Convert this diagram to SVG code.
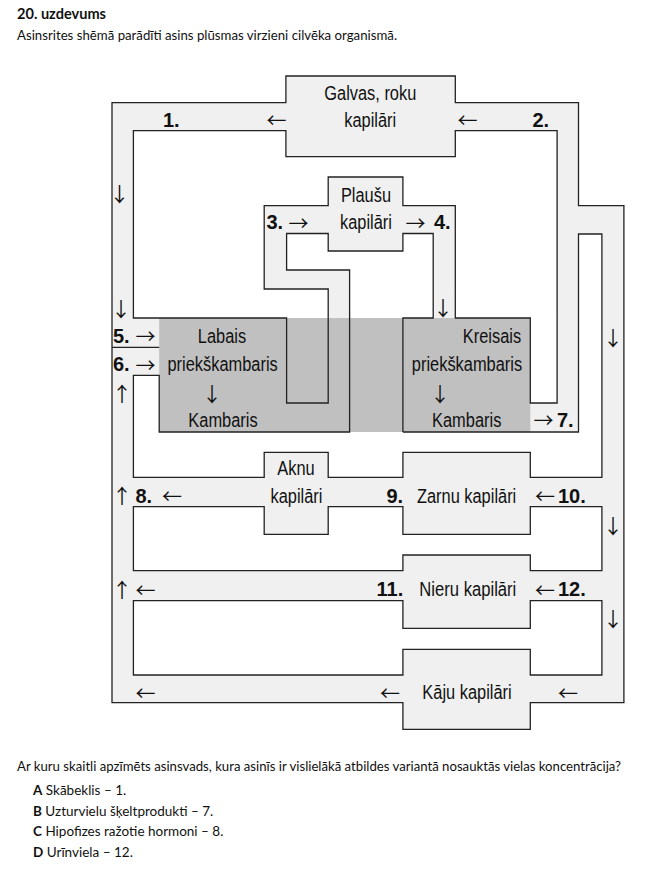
<svg xmlns="http://www.w3.org/2000/svg" width="656" height="869" viewBox="0 0 656 869">
<style>
.pipe{fill:#f0f0f0;stroke:none}
.hole{fill:#ffffff;stroke:none}
.edge{fill:none;stroke:#222;stroke-width:1.3;stroke-linejoin:miter}
.heart{fill:#c0c0c0}
.lbl{font-family:"Liberation Sans Narrow","Liberation Sans",Arial,sans-serif;font-size:20px;fill:#111;text-anchor:middle}
.num{font-family:"Liberation Sans Narrow","Liberation Sans",Arial,sans-serif;font-size:20px;font-weight:bold;fill:#111}
.arr{font-family:"Noto Sans CJK JP","Noto Sans CJK SC",sans-serif;font-size:20px;fill:#111;text-anchor:middle}
.hd{font-family:Lato,"Liberation Sans",sans-serif;fill:#111}
</style>
<rect width="656" height="869" fill="#fff"/>
<g id="header">
<text class="hd" x="17" y="19" font-size="15" font-weight="bold" textLength="89" lengthAdjust="spacingAndGlyphs">20. uzdevums</text>
<text class="hd" x="17" y="40" font-size="13" textLength="380" lengthAdjust="spacingAndGlyphs">Asinsrites shēmā parādīti asins plūsmas virzieni cilvēka organismā.</text>
</g>
<g id="vessels">
<polygon class="pipe" points="112,102.7 285.9,102.7 285.9,76 455.3,76 455.3,102.7 578.5,102.7 578.5,205.7 623.9,205.7 623.9,702.7 530.3,702.7 530.3,729.3 402.9,729.3 402.9,702.7 112,702.7"/>
<polygon id="holeA" class="hole" points="133.4,130.7 285.9,130.7 285.9,156.7 455.3,156.7 455.3,130.7 557.1,130.7 557.1,403 530.3,403 530.3,318 455.3,318 455.3,205.7 402.9,205.7 402.9,177 328.2,177 328.2,205.7 264.2,205.7 264.2,289 328.2,289 328.2,403 286.6,403 286.6,318 159.2,318 133.4,318"/>
<polygon id="holeB" class="hole" points="286.6,233.5 328.2,233.5 328.2,251 402.9,251 402.9,233.5 433.2,233.5 433.2,318 402.9,318 402.9,432 578.5,432 578.5,234 601.9,234 601.9,477.3 530.3,477.3 530.3,452.3 402.9,452.3 402.9,477.3 328.2,477.3 328.2,452.3 264.2,452.3 264.2,477.3 133.4,477.3 133.4,375.3 159.2,375.3 159.2,432 349.6,432 349.6,270 286.6,270"/>
<polygon id="holeC" class="hole" points="133.4,506.7 264.2,506.7 264.2,534.3 328.2,534.3 328.2,506.7 402.9,506.7 402.9,534.3 530.3,534.3 530.3,506.7 601.9,506.7 601.9,570.7 530.3,570.7 530.3,555 402.9,555 402.9,570.7 133.4,570.7"/>
<polygon id="holeD" class="hole" points="133.4,600.7 402.9,600.7 402.9,628.3 530.3,628.3 530.3,600.7 601.9,600.7 601.9,675 530.3,675 530.3,649.3 402.9,649.3 402.9,675 133.4,675"/>
<rect id="heart" class="heart" x="159.2" y="318" width="371.1" height="114"/>
<polygon class="edge" points="112,102.7 285.9,102.7 285.9,76 455.3,76 455.3,102.7 578.5,102.7 578.5,205.7 623.9,205.7 623.9,702.7 530.3,702.7 530.3,729.3 402.9,729.3 402.9,702.7 112,702.7"/>
<polygon class="edge" points="133.4,130.7 285.9,130.7 285.9,156.7 455.3,156.7 455.3,130.7 557.1,130.7 557.1,403 530.3,403 530.3,318 455.3,318 455.3,205.7 402.9,205.7 402.9,177 328.2,177 328.2,205.7 264.2,205.7 264.2,289 328.2,289 328.2,403 286.6,403 286.6,318 159.2,318 133.4,318"/>
<polyline class="edge" points="402.9,432 578.5,432 578.5,234 601.9,234 601.9,477.3 530.3,477.3 530.3,452.3 402.9,452.3 402.9,477.3 328.2,477.3 328.2,452.3 264.2,452.3 264.2,477.3 133.4,477.3 133.4,375.3 159.2,375.3 159.2,432 349.6,432 349.6,270 286.6,270 286.6,233.5 328.2,233.5 328.2,251 402.9,251 402.9,233.5 433.2,233.5 433.2,318 402.9,318 402.9,432"/>
<polygon class="edge" points="133.4,506.7 264.2,506.7 264.2,534.3 328.2,534.3 328.2,506.7 402.9,506.7 402.9,534.3 530.3,534.3 530.3,506.7 601.9,506.7 601.9,570.7 530.3,570.7 530.3,555 402.9,555 402.9,570.7 133.4,570.7"/>
<polygon class="edge" points="133.4,600.7 402.9,600.7 402.9,628.3 530.3,628.3 530.3,600.7 601.9,600.7 601.9,675 530.3,675 530.3,649.3 402.9,649.3 402.9,675 133.4,675"/>
<line class="edge" x1="112" y1="347.3" x2="159.2" y2="347.3"/>
</g>
<g id="galvas">
<text class="lbl" x="370.3" y="99.5" textLength="92" lengthAdjust="spacingAndGlyphs">Galvas, roku</text>
<text class="lbl" x="370.2" y="126.5" textLength="51.9" lengthAdjust="spacingAndGlyphs">kapilāri</text>
</g>
<g id="plausu">
<text class="lbl" x="366" y="201.5" textLength="50.1" lengthAdjust="spacingAndGlyphs">Plaušu</text>
<text class="lbl" x="366" y="229.3" textLength="51.9" lengthAdjust="spacingAndGlyphs">kapilāri</text>
</g>
<g id="sirds-labais">
<text class="lbl" x="222" y="343" textLength="48.3" lengthAdjust="spacingAndGlyphs">Labais</text>
<text class="lbl" x="222.6" y="371" textLength="110.3" lengthAdjust="spacingAndGlyphs">priekškambaris</text>
<text class="arr" x="212" y="401.6">↓</text>
<text class="lbl" x="223" y="427" textLength="69.3" lengthAdjust="spacingAndGlyphs">Kambaris</text>
</g>
<g id="sirds-kreisais">
<text class="lbl" x="492" y="343" textLength="58.3" lengthAdjust="spacingAndGlyphs">Kreisais</text>
<text class="lbl" x="467" y="371" textLength="110.3" lengthAdjust="spacingAndGlyphs">priekškambaris</text>
<text class="arr" x="440" y="401.6">↓</text>
<text class="lbl" x="466.7" y="427" textLength="69.3" lengthAdjust="spacingAndGlyphs">Kambaris</text>
</g>
<g id="aknu">
<text class="lbl" x="296" y="475" textLength="37.4" lengthAdjust="spacingAndGlyphs">Aknu</text>
<text class="lbl" x="296.5" y="503" textLength="51.9" lengthAdjust="spacingAndGlyphs">kapilāri</text>
</g>
<g id="zarnu">
<text class="lbl" x="466.6" y="503" textLength="99.3" lengthAdjust="spacingAndGlyphs">Zarnu kapilāri</text>
</g>
<g id="nieru">
<text class="lbl" x="467.8" y="596" textLength="97" lengthAdjust="spacingAndGlyphs">Nieru kapilāri</text>
</g>
<g id="kaju">
<text class="lbl" x="467" y="699" textLength="89.3" lengthAdjust="spacingAndGlyphs">Kāju kapilāri</text>
</g>
<g id="connectors">
<text class="num" x="163" y="126.5">1.</text>
<text class="num" x="532.5" y="126.5">2.</text>
<text class="num" x="266.5" y="229.3">3.</text>
<text class="num" x="434" y="229.3">4.</text>
<text class="num" x="113" y="343">5.</text>
<text class="num" x="113" y="371">6.</text>
<text class="num" x="557" y="427">7.</text>
<text class="num" x="135.5" y="503">8.</text>
<text class="num" x="386.5" y="503">9.</text>
<text class="num" x="558" y="503">10.</text>
<text class="num" x="376.5" y="596">11.</text>
<text class="num" x="558" y="596">12.</text>
<text class="arr" x="276.5" y="127.6">←</text>
<text class="arr" x="467.5" y="127.6">←</text>
<text class="arr" x="298.5" y="230.9">→</text>
<text class="arr" x="415.5" y="230.9">→</text>
<text class="arr" x="145.5" y="344.3">→</text>
<text class="arr" x="145.5" y="372.6">→</text>
<text class="arr" x="543.5" y="427.6">→</text>
<text class="arr" x="172" y="504.3">←</text>
<text class="arr" x="545" y="504.3">←</text>
<text class="arr" x="145.5" y="597.6">←</text>
<text class="arr" x="545" y="597.6">←</text>
<text class="arr" x="145.5" y="700.9">←</text>
<text class="arr" x="390" y="700.9">←</text>
<text class="arr" x="568" y="700.9">←</text>
<text class="arr" x="119.5" y="201.6">↓</text>
<text class="arr" x="121" y="316.6">↓</text>
<text class="arr" x="122" y="401.6">↑</text>
<text class="arr" x="443" y="315.6">↓</text>
<text class="arr" x="613" y="345.6">↓</text>
<text class="arr" x="122" y="503.6">↑</text>
<text class="arr" x="613" y="533.6">↓</text>
<text class="arr" x="122" y="597.6">↑</text>
<text class="arr" x="613" y="626.6">↓</text>
</g>
<g id="question">
<text class="hd" x="17" y="771" font-size="13" textLength="604" lengthAdjust="spacingAndGlyphs">Ar kuru skaitli apzīmēts asinsvads, kura asinīs ir vislielākā atbildes variantā nosauktās vielas koncentrācija?</text>
<text class="hd" x="33" y="795" font-size="13.5"><tspan font-weight="bold">A</tspan> Skābeklis – 1.</text>
<text class="hd" x="33" y="816" font-size="13.5"><tspan font-weight="bold">B</tspan> Uzturvielu šķeltprodukti – 7.</text>
<text class="hd" x="33" y="836" font-size="13.5"><tspan font-weight="bold">C</tspan> Hipofizes ražotie hormoni – 8.</text>
<text class="hd" x="33" y="857" font-size="13.5"><tspan font-weight="bold">D</tspan> Urīnviela – 12.</text>
</g>
</svg>
